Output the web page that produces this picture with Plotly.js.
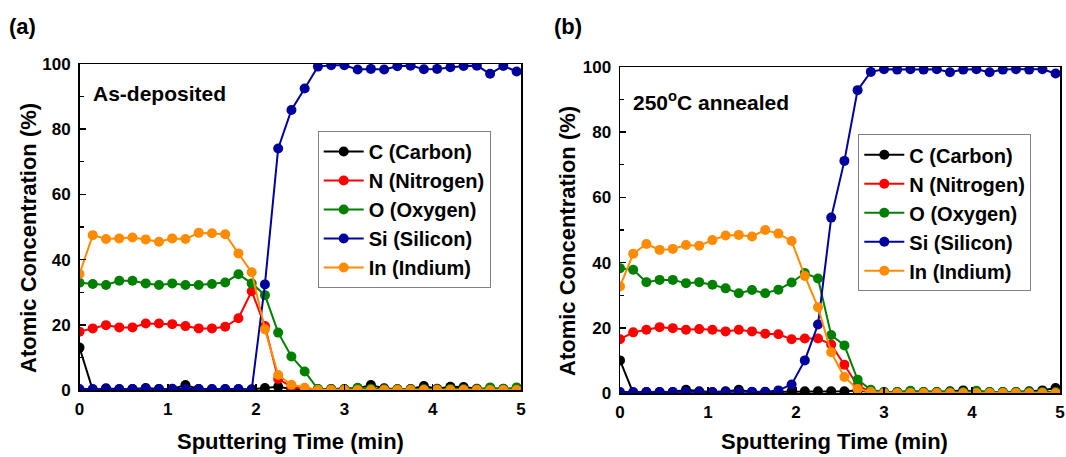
<!DOCTYPE html>
<html>
<head>
<meta charset="utf-8">
<script src="https://cdn.plot.ly/plotly-3.0.1.min.js"></script>
<style>html,body{margin:0;padding:0;background:#fff;}#chart{width:1066px;height:457px;}</style>
</head>
<body>
<div id="chart"></div>
<script>
// Sputtering time (min)
const time = [0,0.15,0.3,0.45,0.6,0.75,0.9,1.05,1.2,1.35,1.5,1.65,1.8,1.95,2.1,2.25,2.4,2.55,2.7,2.85,3,3.15,3.3,3.45,3.6,3.75,3.9,4.05,4.2,4.35,4.5,4.65,4.8,4.95];

const seriesNames = ["C (Carbon)","N (Nitrogen)","O (Oxygen)","Si (Silicon)","In (Indium)"];
const seriesColors = ["#000000","#ff0000","#008000","#00009c","#ff8c00"];

// (a) As-deposited
const carbonA   = [13.0,0,0.5,0.2,0.3,0.6,0.3,0.3,1.5,0.3,0.2,0.2,0.2,0.2,0.6,1.0,0.3,0.2,0.2,0.3,0.3,0.5,1.5,0.5,0.2,0.3,1.2,0.4,1.0,0.9,0.4,0.3,0.4,0.3];
const nitrogenA = [17.9,18.9,19.9,19.2,19.2,20.4,20.4,20.2,19.6,18.9,18.9,19.4,22.0,30.3,19.6,3.4,1.0,0.3,0.2,0.2,0.2,0.2,0.2,0.2,0.2,0.2,0.2,0.2,0.2,0.2,0.2,0.2,0.2,0.2];
const oxygenA   = [32.9,32.5,32.2,33.5,33.5,32.7,32.2,32.7,32.2,32.2,32.5,33.0,35.5,32.7,29.1,17.6,10.3,5.7,0.3,0.2,0.2,0.7,0.4,0.2,0.2,0.2,0.2,0.2,0.3,0.2,0.2,0.8,0.3,0.8];
const siliconA  = [0.3,0.3,0.3,0.3,0.3,0.4,0.3,0.4,0.3,0.3,0.3,0.3,0.3,0,32.4,74.1,85.9,92.5,99.2,99.6,99.6,98.3,98.5,98.3,99.3,99.5,98.4,98.5,99.0,99.4,99.5,97.0,99.4,97.7];
const indiumA   = [35.6,47.5,46.3,46.5,46.8,46.2,45.5,46.5,46.3,48.2,48.1,47.8,41.9,36.1,18.6,4.6,1.6,0.7,0,0,0,0,0,0,0,0,0,0,0,0,0,0,0,0];

// (b) 250°C annealed
const carbonB   = [10.0,0,0.3,0.3,0.3,1.0,0.5,0.2,0.5,1.0,0.3,0.3,0.3,0.5,0.5,0.5,0.5,0.5,0.8,0.3,0.3,0.3,0.5,0.3,0.3,0.5,0.8,0.5,0.3,0.3,0.3,0.5,0.8,1.5];
const nitrogenB = [16.5,18.6,19.4,20.2,19.9,19.4,19.6,19.4,18.9,19.4,18.9,18.2,18.0,16.5,16.7,16.7,14.9,8.7,2.3,0.3,0,0,0,0,0,0,0,0,0,0,0,0,0,0];
const oxygenB   = [38.3,37.8,34.0,34.7,34.7,33.7,34.0,33.2,32.1,30.6,31.6,30.6,31.7,33.9,36.8,35.1,17.8,14.6,4.1,1.0,0.3,0.3,0.7,0.3,0.3,0.3,0.3,0.7,0.3,0.3,0.3,0.3,0.3,0.3];
const siliconB  = [0.3,0.3,0.3,0.3,0.3,0.4,0.3,0.3,0.3,0.3,0.4,0.4,0.8,2.6,10.0,21.0,53.8,71.2,92.9,98.5,99.3,99.2,99.3,99.2,99.3,98.4,99.2,99.3,98.4,99.2,99.3,99.2,99.3,98.0];
const indiumB   = [32.7,42.7,45.7,43.9,44.2,45.4,45.2,46.9,48.3,48.5,48.0,50.0,48.9,46.6,35.9,26.3,12.5,4.9,1.2,0.3,0,0,0,0,0,0,0,0,0,0,0,0,0,0];

const panelA = [carbonA, nitrogenA, oxygenA, siliconA, indiumA];
const panelB = [carbonB, nitrogenB, oxygenB, siliconB, indiumB];

const W = 1066, H = 457;
const FONT = "Liberation Sans, Arial, sans-serif";
const px = v => v / W;
const py = v => 1 - v / H;

const traces = [];
function addPanel(values, xa, ya, leg) {
  values.forEach((vals, i) => {
    traces.push({
      x: time, y: vals, type: "scatter", mode: "lines+markers",
      name: seriesNames[i], xaxis: xa, yaxis: ya, legend: leg,
      line: {color: seriesColors[i], width: 2},
      marker: {color: seriesColors[i], size: 10},
      cliponaxis: true
    });
  });
}
addPanel(panelA, "x", "y", "legend");
addPanel(panelB, "x2", "y2", "legend2");

function xAxis(domain, anchor) {
  return {
    domain: domain, anchor: anchor, range: [0, 5], dtick: 1, tick0: 0,
    showgrid: false, zeroline: false, showline: true, mirror: true,
    linecolor: "#000", linewidth: 1.5, ticks: "inside", ticklen: 6, tickwidth: 1.5, tickcolor: "#000",
    ticklabelstandoff: 3,
    tickfont: {family: FONT, size: 17, color: "#000", weight: "bold"}
  };
}
function yAxis(domain, anchor) {
  return {
    domain: domain, anchor: anchor, range: [0, 100], dtick: 20, tick0: 0,
    showgrid: false, zeroline: false, showline: true, mirror: true,
    linecolor: "#000", linewidth: 1.5, ticks: "inside", ticklen: 6, tickwidth: 1.5, tickcolor: "#000",
    minor: {dtick: 10, ticks: "inside", ticklen: 4, tickwidth: 1.2, tickcolor: "#000", showgrid: false},
    ticklabelstandoff: 4,
    tickfont: {family: FONT, size: 17, color: "#000", weight: "bold"}
  };
}

function legendCfg(left, top) {
  return {
    x: px(left), y: py(top), xanchor: "left", yanchor: "top",
    bgcolor: "#fff", bordercolor: "#808080", borderwidth: 1,
    font: {family: FONT, size: 20, color: "#000", weight: "bold"},
    itemwidth: 40, tracegroupgap: 0
  };
}

function ann(text, x, y, opts) {
  return Object.assign({
    text: text, xref: "paper", yref: "paper", x: px(x), y: py(y),
    showarrow: false, xanchor: "center", yanchor: "middle",
    font: {family: FONT, size: 22, color: "#000", weight: "bold"}
  }, opts || {});
}
const labelFont = {family: FONT, size: 21, color: "#000", weight: "bold"};

const layout = {
  width: W, height: H,
  margin: {l: 0, r: 0, t: 0, b: 0},
  paper_bgcolor: "#fff", plot_bgcolor: "#fff",
  showlegend: true,
  xaxis: xAxis([px(79.5), px(521)], "y"),
  yaxis: yAxis([py(390), py(64)], "x"),
  xaxis2: xAxis([px(620), px(1060)], "y2"),
  yaxis2: yAxis([py(393), py(67)], "x2"),
  legend: legendCfg(317.7, 131),
  legend2: legendCfg(858.3, 134.3),
  annotations: [
    ann("(a)", 22, 26),
    ann("(b)", 568, 26),
    ann("As-deposited", 91, 93, {xanchor: "left", font: labelFont}),
    ann("250<sup>o</sup>C annealed", 631, 101, {xanchor: "left", font: labelFont}),
    ann("Atomic Concentration (%)", 28, 238, {textangle: -90}),
    ann("Atomic Concentration (%)", 567, 241, {textangle: -90}),
    ann("Sputtering Time (min)", 290, 441),
    ann("Sputtering Time (min)", 834, 441)
  ]
};

Plotly.newPlot("chart", traces, layout, {displayModeBar: false, staticPlot: true});
</script>
</body>
</html>
